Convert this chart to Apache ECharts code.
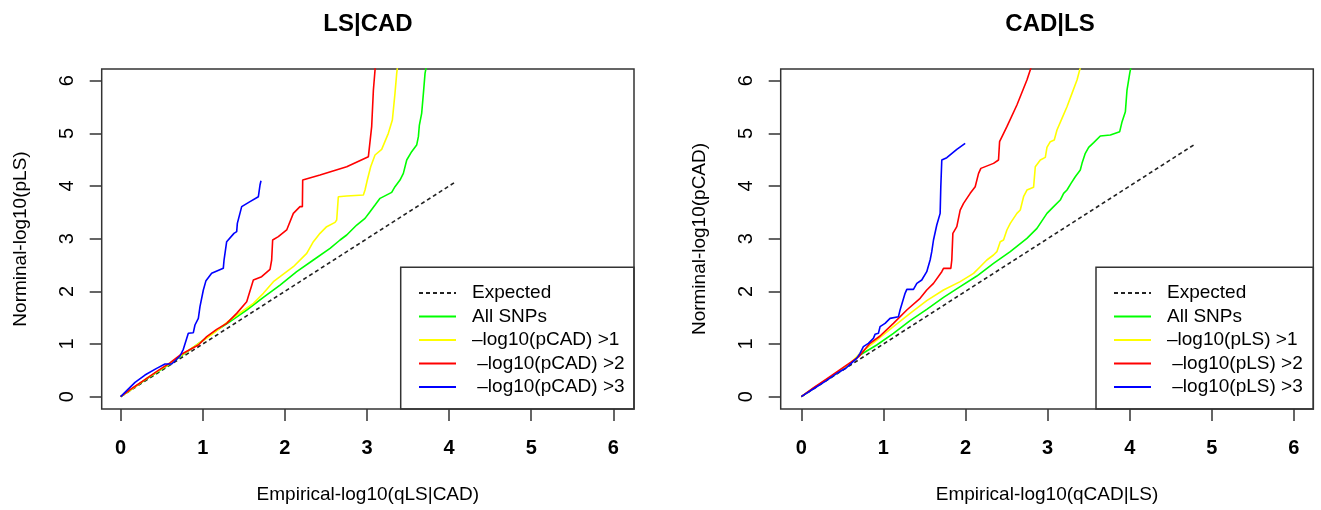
<!DOCTYPE html>
<html>
<head>
<meta charset="utf-8">
<title>LS|CAD and CAD|LS conditional QQ plots</title>
<script src="https://cdn.jsdelivr.net/npm/echarts@6.0.0/dist/echarts.min.js"></script>
<style>
  html, body { margin: 0; padding: 0; background: #fff; }
  #chart { width: 1321px; height: 510px; }
</style>
</head>
<body>
<div id="chart"></div>
<script>
// tick positions (same on both axes of both panels)
const xTicks = [0, 1, 2, 3, 4, 5, 6]
const yTicks = [0, 1, 2, 3, 4, 5, 6]

// ---- left panel: LS|CAD ----
const lsCadExpected = [[0, 0], [4.09, 4.09]]
const lsCadAll = [
  [0, 0], [0.15, 0.16], [0.3, 0.32], [0.45, 0.47], [0.6, 0.62], [0.75, 0.79],
  [0.926, 0.981], [1.129, 1.215], [1.332, 1.424], [1.535, 1.646], [1.738, 1.886],
  [1.941, 2.12], [2.144, 2.373], [2.347, 2.595], [2.55, 2.816], [2.672, 2.975],
  [2.753, 3.07], [2.875, 3.259], [2.976, 3.386], [3.037, 3.513], [3.098, 3.639],
  [3.159, 3.766], [3.301, 3.88], [3.341, 3.987], [3.402, 4.114], [3.443, 4.241],
  [3.484, 4.494], [3.544, 4.652], [3.605, 4.778], [3.626, 4.937], [3.638, 5.158],
  [3.666, 5.38], [3.687, 5.759], [3.707, 6.139], [3.727, 6.3]
]
const lsCadP1 = [
  [0, 0], [0.15, 0.16], [0.3, 0.33], [0.45, 0.48], [0.6, 0.63], [0.75, 0.8],
  [0.926, 0.981], [1.129, 1.203], [1.332, 1.456], [1.616, 1.772], [1.738, 1.962],
  [1.86, 2.184], [1.941, 2.278], [2.103, 2.468], [2.266, 2.722], [2.347, 2.943],
  [2.428, 3.101], [2.509, 3.228], [2.611, 3.31], [2.631, 3.354], [2.651, 3.797],
  [2.753, 3.81], [2.956, 3.829], [2.976, 3.924], [3.004, 4.114], [3.045, 4.367],
  [3.098, 4.589], [3.179, 4.696], [3.26, 5.0], [3.309, 5.253], [3.341, 5.759],
  [3.362, 6.139], [3.374, 6.3]
]
const lsCadP2 = [
  [0, 0], [0.15, 0.17], [0.3, 0.33], [0.45, 0.49], [0.6, 0.64], [0.723, 0.791],
  [0.946, 0.981], [1.048, 1.139], [1.169, 1.278], [1.291, 1.392], [1.413, 1.582],
  [1.535, 1.804], [1.555, 1.835], [1.616, 2.215], [1.717, 2.278], [1.819, 2.418],
  [1.839, 2.595], [1.851, 2.975], [1.92, 3.038], [2.022, 3.165], [2.103, 3.481],
  [2.184, 3.608], [2.213, 3.608], [2.217, 4.114], [2.428, 4.209], [2.753, 4.367],
  [3.017, 4.557], [3.037, 4.589], [3.057, 5.127], [3.078, 5.823], [3.098, 6.203],
  [3.102, 6.3]
]
const lsCadP3 = [
  [0, 0], [0.175, 0.272], [0.296, 0.411], [0.438, 0.538], [0.54, 0.62], [0.621, 0.62],
  [0.723, 0.772], [0.763, 0.899], [0.824, 1.203], [0.885, 1.215], [0.905, 1.361],
  [0.946, 1.487], [0.966, 1.709], [1.007, 2.025], [1.039, 2.203], [1.108, 2.342],
  [1.25, 2.437], [1.259, 2.595], [1.291, 2.943], [1.38, 3.101], [1.413, 3.133],
  [1.421, 3.291], [1.474, 3.608], [1.575, 3.703], [1.677, 3.797], [1.689, 3.829],
  [1.697, 4.019], [1.709, 4.101]
]

// ---- right panel: CAD|LS ----
const cadLsExpected = [[0, 0], [4.8, 4.8]]
const cadLsAll = [
  [0, 0], [0.15, 0.16], [0.3, 0.31], [0.45, 0.46], [0.6, 0.63], [0.715, 0.791],
  [0.919, 0.981], [1.122, 1.203], [1.325, 1.443], [1.528, 1.658], [1.732, 1.886],
  [1.935, 2.089], [2.138, 2.291], [2.341, 2.532], [2.545, 2.753], [2.748, 3.006],
  [2.87, 3.196], [2.992, 3.481], [3.073, 3.608], [3.154, 3.734], [3.195, 3.861],
  [3.236, 3.924], [3.285, 4.051], [3.337, 4.177], [3.398, 4.304], [3.419, 4.43],
  [3.459, 4.62], [3.5, 4.734], [3.561, 4.823], [3.642, 4.949], [3.764, 4.968],
  [3.878, 5.032], [3.907, 5.222], [3.947, 5.411], [3.967, 5.823], [4.0, 6.139],
  [4.02, 6.3]
]
const cadLsP1 = [
  [0, 0], [0.15, 0.16], [0.3, 0.32], [0.45, 0.47], [0.6, 0.64], [0.715, 0.823],
  [0.919, 1.076], [1.122, 1.329], [1.325, 1.582], [1.528, 1.823], [1.732, 2.025],
  [1.935, 2.184], [2.098, 2.342], [2.179, 2.468], [2.26, 2.595], [2.341, 2.69],
  [2.382, 2.753], [2.423, 2.943], [2.463, 2.975], [2.504, 3.165], [2.545, 3.291],
  [2.626, 3.481], [2.667, 3.544], [2.707, 3.797], [2.748, 3.924], [2.829, 3.975],
  [2.85, 4.367], [2.911, 4.494], [2.972, 4.544], [2.992, 4.734], [3.033, 4.842],
  [3.081, 4.873], [3.114, 5.063], [3.175, 5.285], [3.236, 5.506], [3.297, 5.759],
  [3.358, 6.013], [3.407, 6.3]
]
const cadLsP2 = [
  [0, 0], [0.15, 0.17], [0.3, 0.33], [0.45, 0.49], [0.6, 0.65], [0.7, 0.76],
  [0.837, 1.013], [0.959, 1.152], [1.122, 1.392], [1.285, 1.646], [1.447, 1.867],
  [1.528, 2.025], [1.61, 2.152], [1.711, 2.373], [1.732, 2.437], [1.821, 2.437],
  [1.833, 2.595], [1.846, 3.101], [1.894, 3.228], [1.935, 3.544], [1.976, 3.671],
  [2.057, 3.861], [2.118, 3.987], [2.159, 4.241], [2.187, 4.335], [2.341, 4.43],
  [2.402, 4.494], [2.415, 4.842], [2.504, 5.127], [2.626, 5.538], [2.748, 6.013],
  [2.809, 6.3]
]
const cadLsP3 = [
  [0, 0], [0.15, 0.15], [0.3, 0.3], [0.45, 0.46], [0.55, 0.55], [0.675, 0.728],
  [0.715, 0.823], [0.756, 0.949], [0.817, 1.013], [0.878, 1.108], [0.898, 1.184],
  [0.939, 1.203], [0.959, 1.329], [1.02, 1.392], [1.081, 1.487], [1.183, 1.519],
  [1.203, 1.646], [1.264, 1.962], [1.285, 2.038], [1.366, 2.038], [1.407, 2.152],
  [1.467, 2.215], [1.528, 2.373], [1.569, 2.595], [1.589, 2.753], [1.61, 2.975],
  [1.65, 3.259], [1.691, 3.481], [1.699, 3.987], [1.711, 4.494], [1.772, 4.538],
  [1.894, 4.696], [1.996, 4.81]
]

const legendLeft = ['Expected', 'All SNPs', '–log10(pCAD) >1', ' –log10(pCAD) >2', ' –log10(pCAD) >3']
const legendRight = ['Expected', 'All SNPs', '–log10(pLS) >1', ' –log10(pLS) >2', ' –log10(pLS) >3']
const lineColors = ['#222', '#00ff00', '#ffff00', '#ff0000', '#0000ff']

const font = 'Liberation Sans, Arial, sans-serif'

function makeSeries(names, sets, idx) {
  return sets.map((d, i) => ({
    name: names[i],
    type: 'line',
    xAxisIndex: idx,
    yAxisIndex: idx,
    data: d,
    symbol: 'none',
    clip: true,
    animation: false,
    lineStyle: {
      color: lineColors[i],
      width: 1.6,
      type: i === 0 ? [4, 3] : 'solid'
    },
    itemStyle: { color: lineColors[i] },
    z: i === 0 ? 2 : 3
  }))
}

function makeXAxis(idx, min, max, title) {
  return {
    type: 'value',
    gridIndex: idx,
    min: min,
    max: max,
    axisLine: { show: false, onZero: false },
    splitLine: { show: false },
    axisTick: { show: true, length: 12, customValues: xTicks, lineStyle: { color: '#333', width: 1.5 } },
    axisLabel: { customValues: xTicks, margin: 29, fontSize: 20, fontWeight: 'bold', color: '#000', fontFamily: font },
    name: title,
    nameLocation: 'middle',
    nameGap: 76,
    nameTextStyle: { fontSize: 19, color: '#000', fontFamily: font }
  }
}

function makeYAxis(idx, title) {
  return {
    type: 'value',
    gridIndex: idx,
    min: -0.234,
    max: 6.222,
    axisLine: { show: false, onZero: false },
    splitLine: { show: false },
    axisTick: { show: true, length: 12, customValues: yTicks, lineStyle: { color: '#333', width: 1.5 } },
    axisLabel: { customValues: yTicks, rotate: 90, margin: 24, fontSize: 20, color: '#000', fontFamily: font },
    name: title,
    nameLocation: 'middle',
    nameGap: 71,
    nameTextStyle: { fontSize: 19, color: '#000', fontFamily: font }
  }
}

function makeLegend(names, left) {
  return {
    data: names,
    orient: 'vertical',
    left: left,
    top: 283.5,
    padding: 0,
    itemWidth: 37,
    itemHeight: 12,
    itemGap: 4.5,
    selectedMode: false,
    // hide the circle that line series put in the middle of the legend line
    itemStyle: { color: 'rgba(0,0,0,0)', borderColor: 'rgba(0,0,0,0)', borderWidth: 0 },
    textStyle: { fontSize: 19, color: '#000', fontFamily: font, padding: [0, 0, 0, 11] }
  }
}

const chart = echarts.init(document.getElementById('chart'), null, { renderer: 'canvas' })
chart.setOption({
  backgroundColor: '#fff',
  animation: false,
  title: [
    { text: 'LS|CAD', left: 363, top: 7.5, textAlign: 'center', textStyle: { fontSize: 24, fontWeight: 'bold', color: '#000', fontFamily: font } },
    { text: 'CAD|LS', left: 1045, top: 7.5, textAlign: 'center', textStyle: { fontSize: 24, fontWeight: 'bold', color: '#000', fontFamily: font } }
  ],
  grid: [
    { left: 101.7, top: 69, width: 532.3, height: 340, show: true, borderColor: '#333', borderWidth: 1.5, backgroundColor: 'transparent' },
    { left: 780.7, top: 69, width: 532.6, height: 340, show: true, borderColor: '#333', borderWidth: 1.5, backgroundColor: 'transparent' }
  ],
  xAxis: [
    makeXAxis(0, -0.231, 6.252, 'Empirical-log10(qLS|CAD)'),
    makeXAxis(1, -0.251, 6.236, 'Empirical-log10(qCAD|LS)')
  ],
  yAxis: [
    makeYAxis(0, 'Norminal-log10(pLS)'),
    makeYAxis(1, 'Norminal-log10(pCAD)')
  ],
  legend: [
    makeLegend(legendLeft, 418),
    makeLegend(legendRight, 1113)
  ],
  graphic: [
    { type: 'rect', z: 50, silent: true, shape: { x: 400.7, y: 267.3, width: 233.3, height: 141.7 }, style: { fill: 'none', stroke: '#333', lineWidth: 1.5 } },
    { type: 'rect', z: 50, silent: true, shape: { x: 1096, y: 267.3, width: 217.3, height: 141.7 }, style: { fill: 'none', stroke: '#333', lineWidth: 1.5 } }
  ],
  series: [
    ...makeSeries(legendLeft, [lsCadExpected, lsCadAll, lsCadP1, lsCadP2, lsCadP3], 0),
    ...makeSeries(legendRight, [cadLsExpected, cadLsAll, cadLsP1, cadLsP2, cadLsP3], 1)
  ]
})
</script>
</body>
</html>
